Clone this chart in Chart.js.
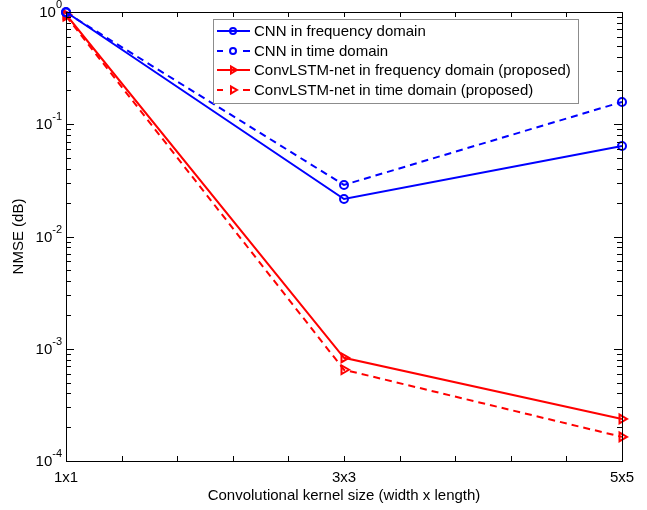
<!DOCTYPE html>
<html>
<head>
<meta charset="utf-8">
<script src="https://cdn.jsdelivr.net/npm/chart.js@4.4.1/dist/chart.umd.min.js"></script>
<style>
  html, body { margin: 0; padding: 0; background: #fff; }
  #wrap { width: 647px; height: 510px; position: relative; }
</style>
</head>
<body>
<div id="wrap"><canvas id="nmseChart"></canvas></div>
<script>
// kernel sizes on the x axis
const kernelLabels = ['1x1', '3x3', '5x5'];
const kernelPos = [1, 3, 5];

// NMSE values
const cnnFreq = [1.0, 0.0216, 0.064];
const cnnTime = [0.99, 0.0288, 0.158];
const lstmFreq = [0.95, 0.00083, 0.000237];
const lstmTime = [0.92, 0.00065, 0.000164];

// y ticks are decades 10^0 .. 10^-4
const yTickExps = [0, -1, -2, -3, -4];

const FONT = 'Liberation Sans, Arial, Helvetica, sans-serif';
const toXY = vals => vals.map((v, i) => ({ x: kernelPos[i], y: v }));

function series(label, vals, color, dashed, style) {
  return {
    label,
    data: toXY(vals),
    borderColor: color,
    backgroundColor: 'rgba(0,0,0,0)',
    borderWidth: 2,
    borderDash: dashed ? [7, 5] : [],
    pointStyle: style,
    pointRotation: style === 'triangle' ? 90 : 0,
    pointRadius: style === 'triangle' ? 5 : 4,
    pointBorderWidth: 2,
    pointBorderColor: color,
    pointBackgroundColor: 'rgba(0,0,0,0)',
    tension: 0
  };
}

// matlab-ish box, inward ticks, superscript labels and the legend
const matlabAxes = {
  id: 'matlabAxes',
  afterDraw(chart) {
    const { ctx, chartArea: a, scales } = chart;
    const xs = scales.x, ys = scales.y;
    ctx.save();
    ctx.strokeStyle = '#000';
    ctx.lineWidth = 1;
    ctx.strokeRect(Math.round(a.left) + 0.5, Math.round(a.top) + 0.5,
      Math.round(a.right - a.left), Math.round(a.bottom - a.top));

    ctx.beginPath();
    // x ticks every 0.4
    for (let k = 0; k <= 10; k++) {
      const px = Math.round(xs.getPixelForValue(1 + k * 0.4)) + 0.5;
      ctx.moveTo(px, a.bottom); ctx.lineTo(px, a.bottom - 5);
      ctx.moveTo(px, a.top); ctx.lineTo(px, a.top + 5);
    }
    // y ticks: decades + minor
    for (let e = -4; e <= 0; e++) {
      for (let m = 1; m <= 9; m++) {
        const v = m * Math.pow(10, e);
        if (v > 1) continue;
        const len = m === 1 ? 8 : 5;
        const py = Math.round(ys.getPixelForValue(v)) + 0.5;
        ctx.moveTo(a.left, py); ctx.lineTo(a.left + len, py);
        ctx.moveTo(a.right, py); ctx.lineTo(a.right - len, py);
      }
    }
    ctx.stroke();

    // y tick labels 10^n
    ctx.fillStyle = '#000';
    ctx.textBaseline = 'middle';
    yTickExps.forEach(e => {
      const py = ys.getPixelForValue(Math.pow(10, e));
      const exp = String(e);
      ctx.font = '11px ' + FONT;
      const ew = ctx.measureText(exp).width;
      const expX = a.left - 4 - ew;
      ctx.textAlign = 'left';
      ctx.fillText(exp, expX, py - 7);
      ctx.font = '15px ' + FONT;
      ctx.textAlign = 'right';
      ctx.fillText('10', expX, py + 1);
    });

    // legend
    const lx = 213, ly = 19, lw = 365, lh = 84;
    ctx.fillStyle = '#fff';
    ctx.fillRect(lx, ly, lw, lh);
    ctx.strokeStyle = '#8c8c8c';
    ctx.lineWidth = 1;
    ctx.strokeRect(lx + 0.5, ly + 0.5, lw, lh);
    chart.data.datasets.forEach((ds, i) => {
      const cy = Math.round(ly + 12 + i * 19.7);
      const mx = lx + 20;
      ctx.strokeStyle = ds.borderColor;
      ctx.lineWidth = 2;
      ctx.beginPath();
      if (ds.borderDash.length) {
        ctx.moveTo(lx + 4, cy); ctx.lineTo(lx + 10, cy);
        ctx.moveTo(lx + 30, cy); ctx.lineTo(lx + 37, cy);
      } else {
        ctx.moveTo(lx + 4, cy); ctx.lineTo(lx + 37, cy);
      }
      ctx.stroke();
      ctx.fillStyle = 'rgba(0,0,0,0)';
      Chart.helpers.drawPoint(ctx, {
        pointStyle: ds.pointStyle, rotation: ds.pointRotation,
        radius: ds.pointRadius - 1, borderWidth: 2
      }, mx, cy);
      ctx.fillStyle = '#000';
      ctx.font = '15px ' + FONT;
      ctx.textAlign = 'left';
      ctx.textBaseline = 'middle';
      ctx.fillText(ds.label, lx + 41, cy + 1);
    });
    ctx.restore();
  }
};

new Chart(document.getElementById('nmseChart'), {
  type: 'line',
  data: {
    datasets: [
      series('CNN in frequency domain', cnnFreq, '#0000ff', false, 'circle'),
      series('CNN in time domain', cnnTime, '#0000ff', true, 'circle'),
      series('ConvLSTM-net in frequency domain (proposed)', lstmFreq, '#ff0000', false, 'triangle'),
      series('ConvLSTM-net in time domain (proposed)', lstmTime, '#ff0000', true, 'triangle')
    ]
  },
  options: {
    responsive: true,
    maintainAspectRatio: false,
    animation: false,
    clip: false,
    layout: { padding: { top: 12, right: 25, left: 10, bottom: 0 } },
    plugins: {
      legend: { display: false },
      tooltip: { enabled: false }
    },
    scales: {
      x: {
        type: 'linear',
        min: 1,
        max: 5,
        afterBuildTicks(scale) {
          scale.ticks = kernelPos.map(v => ({ value: v }));
        },
        afterFit(scale) { scale.height = 49; },
        grid: { display: false },
        border: { display: false },
        ticks: {
          color: '#000',
          font: { family: FONT, size: 15 },
          padding: 0,
          maxRotation: 0,
          callback: v => kernelLabels[kernelPos.indexOf(v)] || ''
        },
        title: {
          display: true,
          text: 'Convolutional kernel size (width x length)',
          color: '#000',
          font: { family: FONT, size: 15 },
          padding: { top: 0, bottom: 5 }
        }
      },
      y: {
        type: 'logarithmic',
        min: 1e-4,
        max: 1,
        afterFit(scale) { scale.width = 56; },
        grid: { display: false },
        border: { display: false },
        ticks: { display: false },
        title: {
          display: true,
          text: 'NMSE (dB)',
          color: '#000',
          font: { family: FONT, size: 15 },
          padding: { top: 0, bottom: 0 }
        }
      }
    }
  },
  plugins: [matlabAxes]
});
</script>
</body>
</html>
